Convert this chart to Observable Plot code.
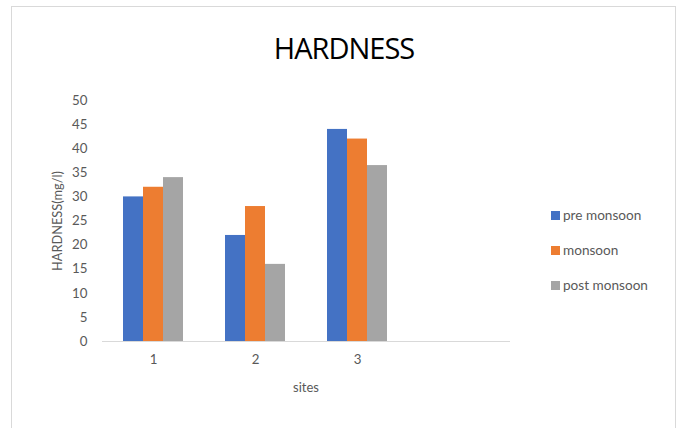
<!DOCTYPE html>
<html>
<head>
<meta charset="utf-8">
<script src="https://cdn.jsdelivr.net/npm/d3@7"></script>
<script src="https://cdn.jsdelivr.net/npm/@observablehq/plot@0.6"></script>
<style>
  html, body { margin: 0; padding: 0; background: #fff; }
  #wrap { position: relative; width: 680px; height: 428px; overflow: hidden; font-family: Lato, "Open Sans", sans-serif; }
  #frame { position: absolute; left: 11px; top: 6px; width: 665px; height: 440px; border: 1px solid #d9d9d9; box-sizing: border-box; }
  #title { position: absolute; left: 0; width: 688px; top: 28px; text-align: center; font-size: 29px; color: #000; font-family: "Open Sans", Lato, sans-serif; letter-spacing: -1px; }
  #ylabel { position: absolute; left: 57px; top: 221px; transform: translate(-50%, -50%) rotate(-90deg); font-size: 12.8px; color: #595959; white-space: nowrap; }
  #xlabel { position: absolute; left: 306px; top: 387px; transform: translate(-50%, -50%); font-size: 13px; color: #595959; }
  #legend { position: absolute; left: 551px; top: 0; }
  .item { position: absolute; left: 0; white-space: nowrap; font-size: 13.6px; color: #595959; display: flex; align-items: center; transform: translateY(-50%); }
  .sw { width: 9px; height: 9px; margin-right: 3px; }
  #chart { position: absolute; left: 0; top: 0; }
</style>
</head>
<body>
<div id="wrap">
  <div id="frame"></div>
  <div id="title">HARDNESS</div>
  <div id="chart"></div>
  <div id="ylabel">HARDNESS(mg/l)</div>
  <div id="xlabel">sites</div>
  <div id="legend"></div>
</div>
<script>
const sites = ["1", "2", "3", " "];
const seriesNames = ["pre monsoon", "monsoon", "post monsoon"];
const preMonsoon = [30, 22, 44];
const monsoon = [32, 28, 42];
const postMonsoon = [34, 16, 36.5];
const colors = ["#4472C4", "#ED7D31", "#A5A5A5"];
const yTicks = [0, 5, 10, 15, 20, 25, 30, 35, 40, 45, 50];
const legendY = [215, 250, 285];

const valuesBySeries = [preMonsoon, monsoon, postMonsoon];
const data = [];
preMonsoon.forEach((_, i) => {
  seriesNames.forEach((s, j) => {
    data.push({ site: sites[i], series: s, value: valuesBySeries[j][i] });
  });
});

const chart = Plot.plot({
  width: 680,
  height: 428,
  marginLeft: 101,
  marginRight: 169,
  marginTop: 100,
  marginBottom: 87,
  style: { fontFamily: "Lato, 'Open Sans', sans-serif", fontSize: "13.3px", color: "#595959", background: "transparent" },
  fx: { domain: sites, padding: 0, label: null, axis: "bottom", tickSize: 0, tickPadding: 13 },
  x: { domain: seriesNames, axis: null, paddingInner: 0, paddingOuter: 0.95 },
  y: { domain: [0, 50], ticks: yTicks, tickSize: 0, tickPadding: 15, label: null },
  color: { domain: seriesNames, range: colors },
  marks: [
    Plot.barY(data, { fx: "site", x: "series", y: "value", fill: "series", inset: 0 }),
    Plot.ruleY(sites, { fx: d => d, y: () => 0, stroke: "#d9d9d9", strokeWidth: 1.2 })
  ]
});
document.getElementById("chart").appendChild(chart);

const legend = document.getElementById("legend");
seriesNames.forEach((s, i) => {
  const it = document.createElement("div");
  it.className = "item";
  it.style.top = legendY[i] + "px";
  it.innerHTML = `<span class="sw" style="background:${colors[i]}"></span><span>${s}</span>`;
  legend.appendChild(it);
});
</script>
</body>
</html>
